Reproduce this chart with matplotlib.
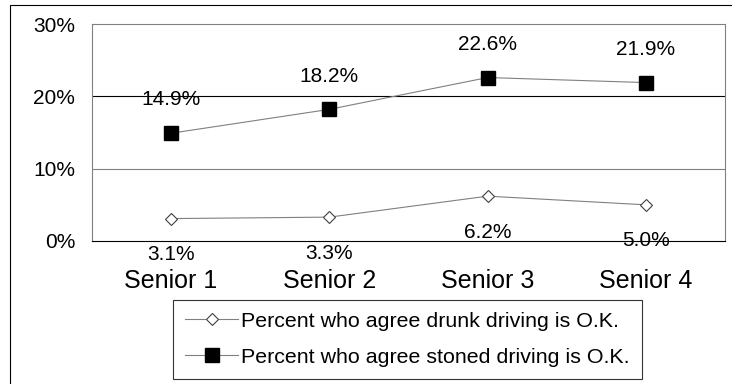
"""Senior survey: share agreeing impaired driving is O.K."""

import matplotlib
matplotlib.use("Agg")
import matplotlib.pyplot as plt
from matplotlib.patches import Rectangle

plt.rcParams["font.family"] = ["Liberation Sans", "DejaVu Sans"]

categories = ["Senior 1", "Senior 2", "Senior 3", "Senior 4"]
drunk_pct = [3.1, 3.3, 6.2, 5.0]
stoned_pct = [14.9, 18.2, 22.6, 21.9]
y_ticks = [0, 10, 20, 30]
drunk_label = "Percent who agree drunk driving is O.K."
stoned_label = "Percent who agree stoned driving is O.K."

W, H = 732, 384
fig = plt.figure(figsize=(W / 100, H / 100), dpi=100)

# outer chart frame (right and bottom edges run off the canvas)
fig.patches.append(Rectangle((10 / W, -0.1), 1.2, 1 - 5 / H + 0.1,
                             transform=fig.transFigure, fill=False,
                             edgecolor="black", linewidth=0.8))

ax = fig.add_axes([92 / W, 1 - 241 / H, (725 - 92) / W, (241 - 24) / H])
x = [i + 0.5 for i in range(len(categories))]

ax.axhline(10, color="#808080", linewidth=0.8, zorder=1)
ax.axhline(20, color="black", linewidth=0.8, zorder=1)

ax.plot(x, drunk_pct, color="#808080", linewidth=0.8, marker="D",
        markersize=6.4, markerfacecolor="white", markeredgecolor="#404040",
        markeredgewidth=0.8, label=drunk_label, zorder=3)
ax.plot(x, stoned_pct, color="#808080", linewidth=0.8, marker="s",
        markersize=9.4, markerfacecolor="black", markeredgecolor="black",
        label=stoned_label, zorder=3)

for xi, v in zip(x, stoned_pct):
    ax.annotate(f"{v:.1f}%", (xi, v), xytext=(0, 20), textcoords="offset points",
                ha="center", va="baseline", fontsize=15)
for xi, v in zip(x, drunk_pct):
    ax.annotate(f"{v:.1f}%", (xi, v), xytext=(0, -30), textcoords="offset points",
                ha="center", va="baseline", fontsize=15)

ax.set_xlim(0, len(categories))
ax.set_ylim(0, 30)
ax.set_xticks(x)
ax.set_xticklabels(categories, fontsize=18)
ax.set_yticks(y_ticks)
ax.set_yticklabels([f"{t}%" for t in y_ticks], fontsize=15)
ax.tick_params(axis="x", length=0, pad=20)
ax.tick_params(axis="y", length=0, pad=12)

for side in ("left", "top", "right"):
    ax.spines[side].set_color("#808080")
    ax.spines[side].set_linewidth(0.8)
ax.spines["bottom"].set_color("black")
ax.spines["bottom"].set_linewidth(0.8)

leg = fig.legend(loc="upper left", bbox_to_anchor=(173 / W, 1 - 300 / H),
                 bbox_transform=fig.transFigure, borderaxespad=0,
                 fontsize=15.4, frameon=True, fancybox=False,
                 handlelength=2.5, handletextpad=0.15, borderpad=0.55,
                 labelspacing=0.8)
leg.get_frame().set_edgecolor("black")
leg.get_frame().set_linewidth(0.8)

fig.savefig("out.png", dpi=100)
